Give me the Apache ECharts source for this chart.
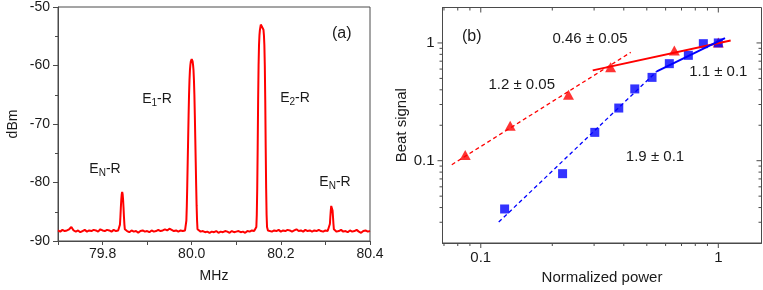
<!DOCTYPE html>
<html>
<head>
<meta charset="utf-8">
<script src="https://cdn.jsdelivr.net/npm/echarts@6/dist/echarts.min.js"></script>
<style>
html,body{margin:0;padding:0;background:#fff;}
#c{width:763px;height:290px;}
</style>
</head>
<body>
<div id="c"></div>
<script>
// ---------- Panel (a): spectrum [MHz, dBm] ----------
const spectrum = [
[79.700,-88.2],[79.705,-88.4],[79.710,-88.1],[79.715,-88.3],[79.720,-88.2],[79.725,-88.0],[79.730,-87.6],[79.735,-88.2],
[79.740,-88.4],[79.745,-88.2],[79.750,-88.5],[79.755,-88.3],[79.760,-88.1],[79.765,-88.4],[79.770,-88.2],[79.775,-88.3],
[79.780,-88.1],[79.785,-88.2],[79.790,-88.4],[79.795,-88.0],[79.800,-88.2],[79.805,-88.3],[79.810,-88.1],[79.815,-88.2],
[79.820,-88.4],[79.825,-88.1],[79.830,-88.3],[79.835,-88.2],
[79.837,-88.3],[79.838,-88.0],[79.839,-87.2],[79.840,-85.9],[79.841,-84.3],[79.842,-82.9],[79.843,-82.0],[79.844,-81.6],
[79.845,-82.0],[79.846,-82.9],[79.847,-84.3],[79.848,-85.9],[79.849,-87.2],[79.850,-88.0],[79.851,-88.3],
[79.855,-88.3],[79.860,-88.5],[79.865,-88.2],[79.870,-88.4],[79.875,-88.3],[79.880,-88.6],[79.885,-88.3],[79.890,-88.2],
[79.895,-88.4],[79.900,-88.3],[79.905,-88.5],[79.910,-88.2],[79.915,-88.4],[79.920,-88.3],[79.925,-88.1],[79.930,-88.3],
[79.935,-88.2],[79.940,-88.0],[79.945,-88.2],[79.950,-87.9],[79.955,-88.1],[79.960,-88.3],[79.965,-88.2],[79.970,-88.4],
[79.975,-88.2],[79.980,-88.3],[79.985,-88.2],
[79.987,-88.0],[79.988,-86.5],[79.989,-84.0],[79.990,-80.5],[79.991,-76.5],[79.992,-72.5],[79.993,-68.5],[79.994,-65.0],
[79.995,-62.5],[79.996,-60.8],[79.997,-59.9],[79.998,-59.3],[80.000,-58.9],[80.002,-59.3],[80.003,-59.9],[80.004,-60.8],
[80.005,-62.5],[80.006,-65.0],[80.007,-68.5],[80.008,-72.5],[80.009,-76.5],[80.010,-80.5],[80.011,-84.0],[80.012,-86.5],
[80.013,-88.0],
[80.015,-88.3],[80.020,-88.4],[80.025,-88.3],[80.030,-88.5],[80.035,-88.4],[80.040,-88.6],[80.045,-88.4],[80.050,-88.5],
[80.055,-88.3],[80.060,-88.6],[80.065,-88.4],[80.070,-88.5],[80.075,-88.3],[80.080,-88.4],[80.085,-88.6],[80.090,-88.3],
[80.095,-88.5],[80.100,-88.4],[80.105,-88.3],[80.110,-88.5],[80.115,-88.4],[80.120,-88.6],[80.125,-88.3],[80.130,-88.4],
[80.135,-88.2],[80.140,-88.3],
[80.143,-88.2],[80.145,-87.6],[80.146,-85.5],[80.147,-81.0],[80.148,-74.0],[80.149,-66.0],[80.150,-60.0],[80.151,-56.5],
[80.152,-54.8],[80.153,-53.9],[80.155,-53.0],[80.157,-52.7],[80.159,-53.0],[80.161,-53.9],[80.162,-54.8],[80.163,-56.5],
[80.164,-60.0],[80.165,-66.0],[80.166,-74.0],[80.167,-81.0],[80.168,-85.5],[80.169,-87.6],[80.171,-88.2],
[80.175,-88.2],[80.180,-88.4],[80.185,-88.2],[80.190,-88.3],[80.195,-88.1],[80.200,-88.4],[80.205,-88.2],[80.210,-88.3],
[80.215,-88.1],[80.220,-88.2],[80.225,-88.4],[80.230,-88.2],[80.235,-88.0],[80.240,-88.3],[80.245,-88.2],[80.250,-88.4],
[80.255,-88.1],[80.260,-88.3],[80.265,-88.2],[80.270,-88.4],[80.275,-88.2],[80.280,-88.3],[80.285,-88.1],[80.290,-88.3],
[80.295,-88.4],[80.300,-88.2],[80.305,-88.3],
[80.308,-88.3],[80.309,-88.0],[80.310,-87.1],[80.311,-85.9],[80.312,-84.8],[80.313,-84.0],[80.314,-83.7],[80.315,-84.0],
[80.316,-84.8],[80.317,-85.9],[80.318,-87.1],[80.319,-88.0],[80.320,-88.3],
[80.325,-88.4],[80.330,-88.3],[80.335,-88.1],[80.340,-88.4],[80.345,-88.3],[80.350,-88.5],[80.355,-88.2],
[80.360,-88.4],[80.365,-88.3],[80.370,-88.1],[80.375,-88.4],[80.380,-88.6],[80.385,-88.3],[80.390,-88.2],[80.395,-88.4],
[80.400,-88.3]
];

// ---------- Panel (b): beat signal vs normalized power ----------
const powerTri  = [0.086, 0.133, 0.234, 0.352, 0.653, 1.0];
const signalTri = [0.112, 0.198, 0.364, 0.621, 0.861, 1.01];
const powerSq   = [0.126, 0.221, 0.302, 0.381, 0.445, 0.526, 0.622, 0.748, 0.865, 1.0];
const signalSq  = [0.0389, 0.0776, 0.174, 0.28, 0.407, 0.51, 0.667, 0.785, 0.986, 1.0];
const redDashX  = [0.0755, 0.428], redDashY  = [0.0925, 0.832];
const redSolidX = [0.296, 1.127],  redSolidY = [0.585, 1.047];
const blueDashX = [0.119, 0.551],  blueDashY = [0.0301, 0.574];
const blueSolidX= [0.551, 1.067],  blueSolidY= [0.574, 1.10];

// tick positions for the log panel
const logMajor = [0.1, 1];
const xLogMinor = [0.07, 0.08, 0.09, 0.2, 0.3, 0.4, 0.5, 0.6, 0.7, 0.8, 0.9];
const yLogMinor = [0.03, 0.04, 0.05, 0.06, 0.07, 0.08, 0.09, 0.2, 0.3, 0.4, 0.5, 0.6, 0.7, 0.8, 0.9];
const xLogMin = 0.069, xLogMax = 1.52, yLogMin = 0.02, yLogMax = 2;

const FONT = "'Liberation Sans', Arial, Helvetica, sans-serif";
const TXT = '#1a1a1a';
const AX = '#4a4a4a';

function zip(a, b) { return a.map((v, i) => [v, b[i]]); }

const tickItems = [];
function addTicks(list, len) {
  list.forEach(v => {
    tickItems.push({p: [v, yLogMin], dx: 0, dy: 1, len: len});   // bottom, outward
    tickItems.push({p: [v, yLogMax], dx: 0, dy: 1, len: len});   // top, inward
  });
}
function addYTicks(list, len) {
  list.forEach(v => {
    tickItems.push({p: [xLogMin, v], dx: -1, dy: 0, len: len});  // left, outward
    tickItems.push({p: [xLogMax, v], dx: -1, dy: 0, len: len});  // right, inward
  });
}
addTicks(logMajor, 5); addTicks(xLogMinor, 3);
addYTicks(logMajor, 5); addYTicks(yLogMinor, 3);

function near(v, t) { return Math.abs(v - t) < 1e-6 * Math.max(1, t); }

const chart = echarts.init(document.getElementById('c'), null, {renderer: 'canvas'});

const subLabel = (sub) => ({
  text: '{a|E}{b|' + sub + '}{a|-R}',
  rich: {
    a: {fontSize: 14, fontFamily: FONT, fill: TXT, lineHeight: 18},
    b: {fontSize: 10, fontFamily: FONT, fill: TXT, lineHeight: 10, verticalAlign: 'bottom'}
  }
});

function txt(x, y, text, size) {
  return {type: 'text', x: x, y: y, style: {text: text, font: size + 'px ' + FONT, fill: TXT, align: 'center', verticalAlign: 'middle'}};
}
function richTxt(x, y, sub) {
  const s = subLabel(sub);
  return {type: 'text', x: x, y: y, style: Object.assign(s, {align: 'center', verticalAlign: 'middle'})};
}

const option = {
  animation: false,
  backgroundColor: '#fff',
  grid: [
    {left: 58, top: 7, width: 312, height: 234, show: true, borderColor: AX, borderWidth: 1, backgroundColor: 'transparent'},
    {left: 442.5, top: 7.5, width: 319, height: 236, show: true, borderColor: AX, borderWidth: 1, backgroundColor: 'transparent'}
  ],
  xAxis: [
    {
      gridIndex: 0, type: 'value', min: 79.7, max: 80.4, interval: 0.1,
      axisLine: {lineStyle: {color: AX, width: 1}},
      axisTick: {show: true, inside: false, length: 4, lineStyle: {color: AX}},
      splitLine: {show: false},
      axisLabel: {
        color: TXT, fontSize: 14, fontFamily: FONT, margin: 6,
        formatter: v => (Math.round(v * 10) % 2 === 0 ? v.toFixed(1) : '')
      },
      name: 'MHz', nameLocation: 'middle', nameGap: 28,
      nameTextStyle: {color: TXT, fontSize: 14, fontFamily: FONT}
    },
    {
      gridIndex: 1, type: 'log', logBase: 10, min: xLogMin, max: xLogMax,
      axisLine: {lineStyle: {color: AX, width: 1}},
      axisTick: {show: false},
      minorTick: {show: false},
      splitLine: {show: false},
      axisLabel: {
        color: TXT, fontSize: 15, fontFamily: FONT, margin: 7,
        showMinLabel: false, showMaxLabel: false,
        formatter: v => (near(v, 0.1) ? '0.1' : near(v, 1) ? '1' : '')
      },
      name: 'Normalized power', nameLocation: 'middle', nameGap: 27,
      nameTextStyle: {color: TXT, fontSize: 15, fontFamily: FONT}
    }
  ],
  yAxis: [
    {
      gridIndex: 0, type: 'value', min: -90, max: -50, interval: 10,
      axisLine: {show: true, lineStyle: {color: AX, width: 1}},
      axisTick: {show: true, inside: false, length: 5, lineStyle: {color: AX}},
      minorTick: {show: true, splitNumber: 2, length: 3, lineStyle: {color: AX}},
      splitLine: {show: false},
      axisLabel: {color: TXT, fontSize: 14, fontFamily: FONT, margin: 8},
      name: 'dBm', nameLocation: 'middle', nameRotate: 90, nameGap: 38,
      nameTextStyle: {color: TXT, fontSize: 14, fontFamily: FONT}
    },
    {
      gridIndex: 1, type: 'log', logBase: 10, min: yLogMin, max: yLogMax,
      axisLine: {show: true, lineStyle: {color: AX, width: 1}},
      axisTick: {show: false},
      minorTick: {show: false},
      splitLine: {show: false},
      axisLabel: {
        color: TXT, fontSize: 15, fontFamily: FONT, margin: 8,
        showMinLabel: false, showMaxLabel: false,
        formatter: v => (near(v, 0.1) ? '0.1' : near(v, 1) ? '1' : '')
      },
      name: 'Beat signal', nameLocation: 'middle', nameRotate: 90, nameGap: 33,
      nameTextStyle: {color: TXT, fontSize: 15, fontFamily: FONT}
    }
  ],
  series: [
    {
      type: 'line', xAxisIndex: 0, yAxisIndex: 0, data: spectrum,
      showSymbol: false, clip: true,
      lineStyle: {color: '#ff0000', width: 2}
    },
    {
      type: 'custom', xAxisIndex: 1, yAxisIndex: 1, clip: false, silent: true,
      data: tickItems.map(t => t.p),
      renderItem: (params, api) => {
        const t = tickItems[params.dataIndex];
        const p = api.coord(t.p);
        return {type: 'line', shape: {x1: p[0], y1: p[1], x2: p[0] + t.dx * t.len, y2: p[1] + t.dy * t.len},
          style: {stroke: AX, lineWidth: 1}};
      }
    },
    {
      type: 'line', xAxisIndex: 1, yAxisIndex: 1, data: zip(redDashX, redDashY),
      showSymbol: false, lineStyle: {color: '#ff0000', width: 1.3, type: [4, 3]}
    },
    {
      type: 'line', xAxisIndex: 1, yAxisIndex: 1, data: zip(redSolidX, redSolidY),
      showSymbol: false, lineStyle: {color: '#ff0000', width: 2}
    },
    {
      type: 'line', xAxisIndex: 1, yAxisIndex: 1, data: zip(blueDashX, blueDashY),
      showSymbol: false, lineStyle: {color: '#0000ff', width: 1.3, type: [4, 3]}
    },
    {
      type: 'line', xAxisIndex: 1, yAxisIndex: 1, data: zip(blueSolidX, blueSolidY),
      showSymbol: false, lineStyle: {color: '#0000ff', width: 2}
    },
    {
      type: 'scatter', xAxisIndex: 1, yAxisIndex: 1, data: zip(powerTri, signalTri),
      symbol: 'triangle', symbolSize: [11, 10], itemStyle: {color: '#ff0000'}
    },
    {
      type: 'scatter', xAxisIndex: 1, yAxisIndex: 1, data: zip(powerSq, signalSq),
      symbol: 'rect', symbolSize: 9, itemStyle: {color: '#0000ff'}
    }
  ],
  graphic: [
    txt(341.7, 33.5, '(a)', 16),
    richTxt(157, 99, '1'),
    richTxt(295, 98.5, '2'),
    richTxt(105, 169.5, 'N'),
    richTxt(335, 182, 'N'),
    txt(471.7, 36.7, '(b)', 16),
    txt(590, 39.3, '0.46 \u00b1 0.05', 15),
    txt(521.7, 85, '1.2 \u00b1 0.05', 15),
    txt(718.3, 71.7, '1.1 \u00b1 0.1', 15),
    txt(655, 156.7, '1.9 \u00b1 0.1', 15)
  ]
};
chart.setOption(option);
</script>
</body>
</html>
